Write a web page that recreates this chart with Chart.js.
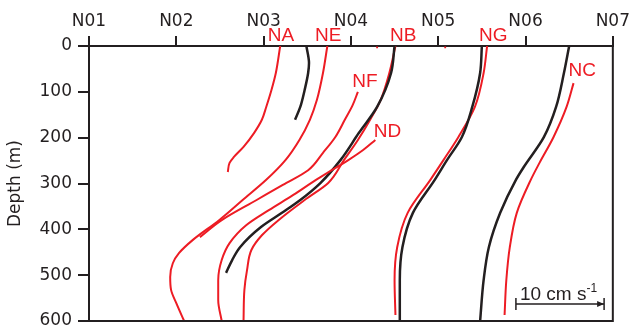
<!DOCTYPE html>
<html>
<head>
<meta charset="utf-8">
<script src="https://cdn.jsdelivr.net/npm/chart.js@4.4.1/dist/chart.umd.min.js"></script>
<style>
  html, body { margin: 0; padding: 0; background: #fff; }
  #wrap { width: 636px; height: 329px; }
</style>
</head>
<body>
<div id="wrap"><canvas id="profileChart"></canvas></div>
<script>
// tick labels (stations along the top axis)
const stationTicks = ['N01', 'N02', 'N03', 'N04', 'N05', 'N06', 'N07'];

// profiles: depth (m) and position on the station axis
const naRedDepth = [0, 59, 96, 133, 161, 190, 220, 242, 255, 275];
const naRedX = [3.19, 3.14, 3.09, 3.03, 2.98, 2.89, 2.77, 2.66, 2.61, 2.59];

const naBlackDepth = [0, 37, 59, 96, 133, 161];
const naBlackX = [3.49, 3.52, 3.51, 3.47, 3.42, 3.36];

const neRedDepth = [0, 59, 118, 161, 205, 249, 292, 336, 380, 423, 452, 474, 504, 532, 561, 600];
const neRedX = [3.73, 3.68, 3.61, 3.53, 3.41, 3.25, 3.03, 2.76, 2.49, 2.19, 2.03, 1.96, 1.93, 1.94, 2.0, 2.09];

const nfRedDepth = [100, 129, 161, 199, 233, 271, 303, 336, 380, 417];
const nfRedX = [4.08, 4.02, 3.93, 3.82, 3.68, 3.51, 3.22, 2.92, 2.52, 2.27];

const ndRedDepth = [205, 227, 249, 271, 292, 325, 358, 391, 430, 467, 511, 554, 600];
const ndRedX = [4.28, 4.14, 3.97, 3.78, 3.60, 3.34, 3.06, 2.80, 2.61, 2.52, 2.48, 2.48, 2.52];

const nbBlackDepth = [0, 59, 133, 190, 249, 299, 336, 364, 395, 439, 467, 495];
const nbBlackX = [4.50, 4.46, 4.30, 4.09, 3.88, 3.65, 3.42, 3.21, 2.97, 2.73, 2.64, 2.57];

const nbRedDepth = [0, 59, 118, 161, 205, 249, 299, 336, 380, 413, 445, 489, 532, 600];
const nbRedX = [4.51, 4.44, 4.34, 4.22, 4.08, 3.92, 3.74, 3.47, 3.17, 2.98, 2.86, 2.81, 2.78, 2.77];

const ngBlackDepth = [0, 59, 133, 199, 249, 292, 364, 439, 511, 600];
const ngBlackX = [5.50, 5.48, 5.39, 5.27, 5.10, 4.96, 4.71, 4.59, 4.56, 4.56];

const ngRedDepth = [0, 59, 133, 199, 249, 292, 364, 439, 511, 587];
const ngRedX = [5.56, 5.52, 5.42, 5.23, 5.06, 4.91, 4.65, 4.53, 4.50, 4.51];

const ncBlackDepth = [0, 59, 133, 199, 264, 292, 364, 439, 511, 600];
const ncBlackX = [6.50, 6.44, 6.35, 6.21, 5.98, 5.89, 5.71, 5.58, 5.52, 5.48];

const ncRedDepth = [81, 133, 199, 255, 292, 364, 439, 511, 587];
const ncRedX = [6.55, 6.47, 6.32, 6.16, 6.06, 5.90, 5.82, 5.78, 5.76];

// stray red marks just under the top axis
const markDepth = [3, 3];
const markX = [4.30, 5.08];

// profile labels
const labelNames = ['NA', 'NE', 'NB', 'NG', 'NF', 'ND', 'NC'];
const labelX = [3.20, 3.74, 4.60, 5.63, 4.16, 4.42, 6.65];
const labelDepth = [-22, -22, -22, -22, 78, 188, 55];

const RED = '#ed1c24';
const INK = '#231f20';

function profile(depths, xs, color, width) {
    return {
        data: depths.map((d, i) => ({ x: xs[i], y: d })),
        borderColor: color,
        borderWidth: width,
        pointRadius: 0,
        cubicInterpolationMode: 'monotone',
        fill: false
    };
}

const profileLabels = {
    id: 'profileLabels',
    afterDatasetsDraw(chart) {
        const ctx = chart.ctx;
        const xs = chart.scales.x, ys = chart.scales.y;
        ctx.save();
        ctx.fillStyle = RED;
        ctx.font = '19px "Liberation Sans", Arial, sans-serif';
        ctx.textAlign = 'center';
        ctx.textBaseline = 'middle';
        labelNames.forEach((name, i) => {
            ctx.fillText(name, xs.getPixelForValue(labelX[i]), ys.getPixelForValue(labelDepth[i]));
        });

        // frame on the right and bottom
        const a = chart.chartArea;
        ctx.strokeStyle = INK;
        ctx.lineWidth = 2;
        ctx.beginPath();
        ctx.moveTo(a.left, a.bottom);
        ctx.lineTo(a.right, a.bottom);
        ctx.lineTo(a.right, a.top);
        ctx.stroke();

        // scale bar: 10 cm s-1
        const x1 = xs.getPixelForValue(5.89), x2 = xs.getPixelForValue(6.9);
        const yb = ys.getPixelForValue(563);
        ctx.lineWidth = 1.5;
        ctx.beginPath();
        ctx.moveTo(x1, yb); ctx.lineTo(x2, yb);
        ctx.moveTo(x1, yb - 6); ctx.lineTo(x1, yb + 6);
        ctx.moveTo(x2, yb - 6); ctx.lineTo(x2, yb + 6);
        ctx.stroke();
        ctx.fillStyle = INK;
        ctx.beginPath();
        ctx.moveTo(x2, yb); ctx.lineTo(x2 - 7, yb - 3); ctx.lineTo(x2 - 7, yb + 3);
        ctx.closePath();
        ctx.fill();
        ctx.textAlign = 'left';
        ctx.textBaseline = 'alphabetic';
        ctx.font = '19px "Liberation Sans", Arial, sans-serif';
        ctx.fillText('10 cm s', x1 + 4, yb - 4);
        const w = ctx.measureText('10 cm s').width;
        ctx.font = '12px "Liberation Sans", Arial, sans-serif';
        ctx.fillText('-1', x1 + 4 + w, yb - 12);
        ctx.restore();
    }
};

const axisGrid = {
    drawOnChartArea: false,
    drawTicks: true,
    color: INK,
    lineWidth: 2
};

const datasets = [
    profile(naRedDepth, naRedX, RED, 2),
    profile(neRedDepth, neRedX, RED, 2),
    profile(nfRedDepth, nfRedX, RED, 2),
    profile(ndRedDepth, ndRedX, RED, 2),
    profile(naBlackDepth, naBlackX, INK, 2.5),
    profile(nbBlackDepth, nbBlackX, INK, 2.5),
    profile(nbRedDepth, nbRedX, RED, 2),
    profile(ngBlackDepth, ngBlackX, INK, 2.5),
    profile(ngRedDepth, ngRedX, RED, 2),
    profile(ncBlackDepth, ncBlackX, INK, 2.5),
    profile(ncRedDepth, ncRedX, RED, 2)
];
datasets.push({
    data: markDepth.map((d, i) => ({ x: markX[i], y: d })),
    showLine: false,
    pointStyle: 'rect',
    pointRadius: 1.3,
    pointBorderWidth: 0,
    pointBackgroundColor: RED
});

new Chart(document.getElementById('profileChart').getContext('2d'), {
    type: 'line',
    data: { datasets },
    options: {
        indexAxis: 'y',
        responsive: true,
        maintainAspectRatio: false,
        animation: false,
        layout: { padding: { left: 0, top: 0, right: 19, bottom: 0 } },
        plugins: {
            legend: { display: false },
            tooltip: { enabled: false }
        },
        scales: {
            x: {
                type: 'linear',
                position: 'top',
                min: 1,
                max: 7,
                afterFit: s => { s.height = 46; },
                grid: Object.assign({ tickLength: 10 }, axisGrid),
                border: { display: true, color: INK, width: 2 },
                ticks: {
                    stepSize: 1,
                    padding: 6,
                    color: INK,
                    font: { family: 'DejaVu Sans', size: 17, lineHeight: 1 },
                    callback: v => stationTicks[v - 1]
                }
            },
            y: {
                type: 'linear',
                reverse: true,
                min: 0,
                max: 600,
                afterFit: s => {
                    s.width = 89;
                    s.paddingTop = 8;
                    s.paddingBottom = 8;
                },
                grid: Object.assign({ tickLength: 11 }, axisGrid),
                border: { display: true, color: INK, width: 2 },
                title: {
                    display: true,
                    text: 'Depth (m)',
                    color: INK,
                    font: { family: 'DejaVu Sans', size: 17 },
                    padding: { top: 5, bottom: 0 }
                },
                ticks: {
                    stepSize: 100,
                    padding: 6,
                    color: INK,
                    font: { family: 'DejaVu Sans', size: 17 }
                }
            }
        }
    },
    plugins: [profileLabels]
});
</script>
</body>
</html>
